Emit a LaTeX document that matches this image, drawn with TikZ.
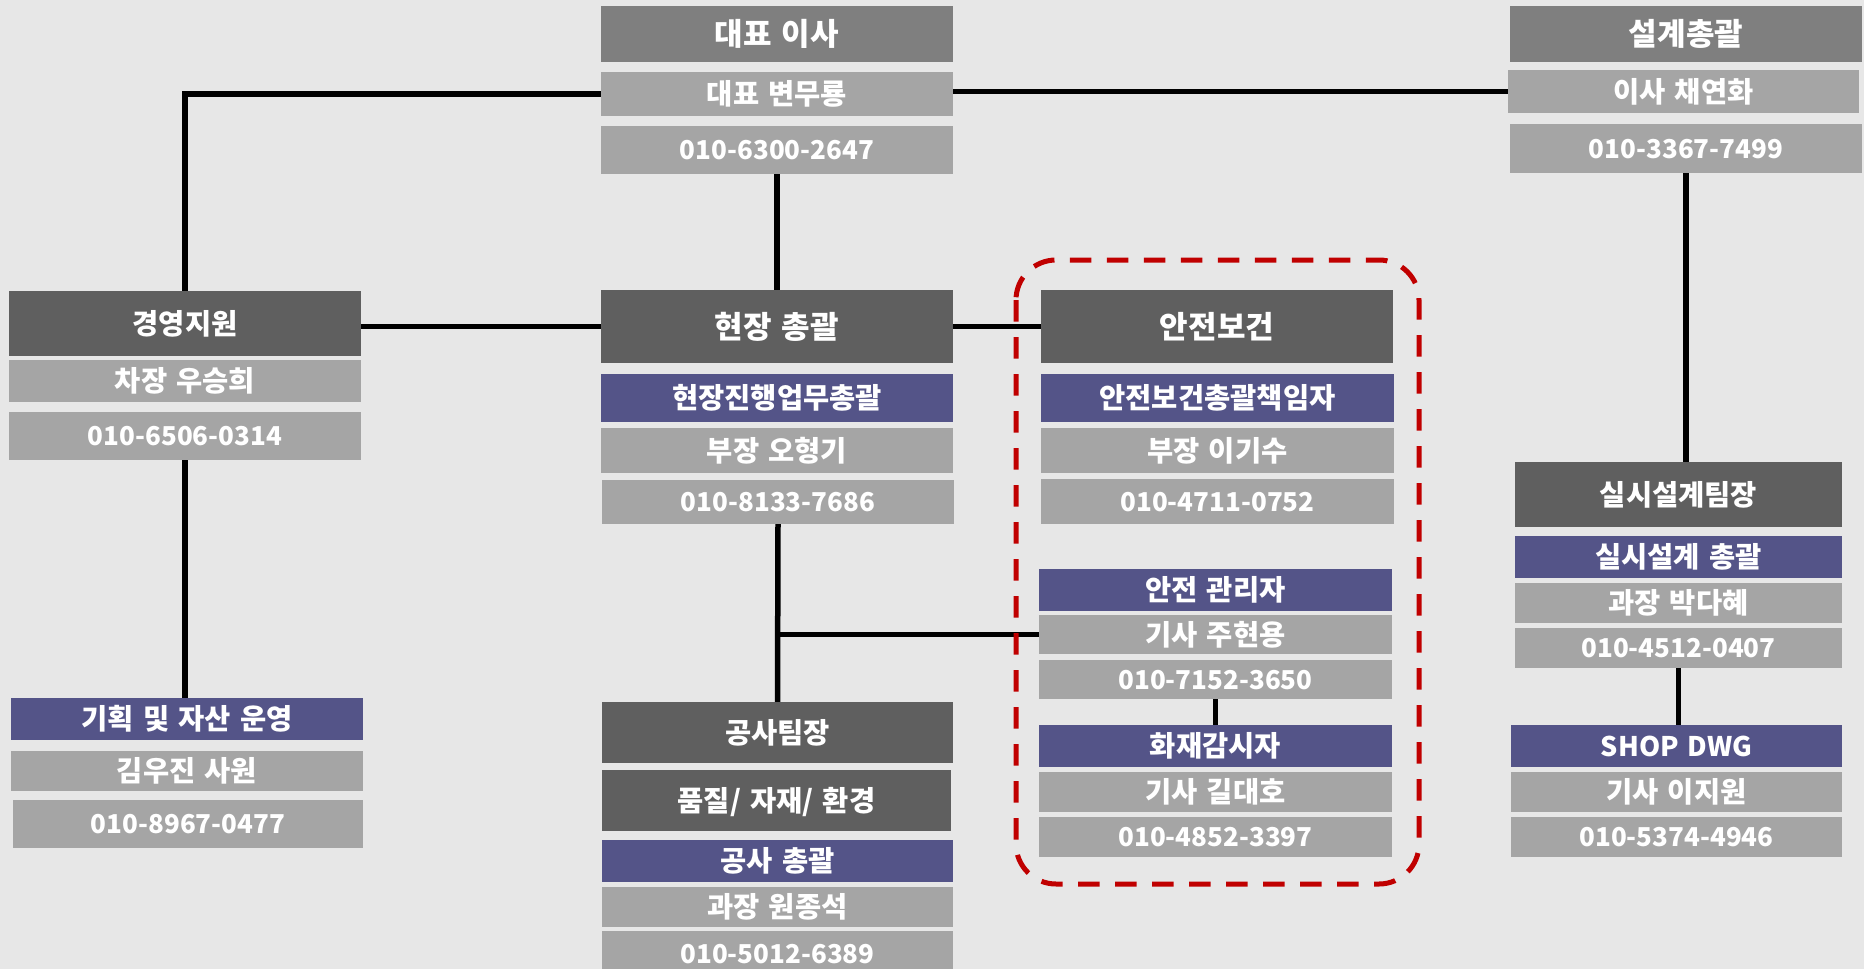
\documentclass[tikz,border=0pt]{standalone}
\usepackage{fontspec}
\setmainfont{Noto Sans CJK KR}[WordSpace=1.4]
\definecolor{bgc}{HTML}{E7E7E7}
\definecolor{topgray}{HTML}{7F7F7F}
\definecolor{darkbox}{HTML}{5F5F5F}
\definecolor{lightbox}{HTML}{A5A5A5}
\definecolor{purplebox}{HTML}{545488}
\definecolor{redline}{HTML}{C00000}
\tikzset{
  bx/.style={inner sep=0pt, text=white, font=\bfseries\fontsize{26}{30}\selectfont,
    text height=19pt, text depth=0pt, minimum width=352pt},
  kt/.style={font=\bfseries\fontsize{28.5}{32}\selectfont, text height=21pt},
  bigtxt/.style={font=\bfseries\fontsize{31}{35}\selectfont, text height=23pt},
  topbox/.style={bx, bigtxt, fill=topgray},
  dk/.style={bx, kt, fill=darkbox},
  lt/.style={bx, fill=lightbox},
  ltk/.style={bx, kt, fill=lightbox},
  pu/.style={bx, kt, fill=purplebox},
  conn/.style={line width=5.5pt, black},
  groupline/.style={draw=redline, line width=5pt, dash pattern=on 21.5pt off 15.5pt, rounded corners=40pt}
}
\begin{document}
\begin{tikzpicture}[x=1pt,y=-1pt]
\useasboundingbox (0,0) rectangle (1864,969);
\clip (0,0) rectangle (1864,969);
\fill[bgc] (0,0) rectangle (1864,969);

% top center
\node[topbox, minimum height=56pt] (ceo) at (777,34) {대표 이사};
\node[ltk, minimum height=44pt] (bm) at (777,94) {대표 변무룡};
\node[lt, minimum height=48pt] (p1) at (777,150) {010-6300-2647};

% top right
\node[topbox, minimum height=56pt] (des) at (1686,34) {설계총괄};
\node[ltk, minimum width=351pt, minimum height=43pt] (cy) at (1683.5,91.5) {이사 채연화};
\node[lt, minimum height=49pt] (p2) at (1686,148.5) {010-3367-7499};

% left
\node[dk, minimum height=65pt] (gy) at (185,323.5) {경영지원};
\node[ltk, minimum height=42pt] (wsh) at (185,381) {차장 우승희};
\node[lt, minimum height=48pt] (p3) at (185,436) {010-6506-0314};

\node[pu, minimum height=42pt] (kh) at (187,719) {기획 및 자산 운영};
\node[ltk, minimum height=40pt] (kwj) at (187,771) {김우진 사원};
\node[lt, minimum width=350pt, minimum height=48pt] (p10) at (188,824) {010-8967-0477};

% center
\node[dk, bigtxt, minimum height=73pt] (hj) at (777,326.5) {현장 총괄};
\node[pu, minimum height=48pt] (hjp) at (777,398) {현장진행업무총괄};
\node[ltk, minimum height=45pt] (ohg) at (777,450.5) {부장 오형기};
\node[lt, minimum height=44pt] (p4) at (778,502) {010-8133-7686};

\node[dk, minimum width=351pt, minimum height=61pt] (gs) at (777.5,732.5) {공사팀장};
\node[dk, minimum width=349pt, minimum height=61pt] (pj) at (776.5,800.5) {품질/ 자재/ 환경};
\node[pu, minimum width=351pt, minimum height=42pt] (gsc) at (777.5,861) {공사 총괄};
\node[ltk, minimum width=351pt, minimum height=40pt] (wjs) at (777.5,907) {과장 원종석};
\node[lt, minimum width=351pt, minimum height=46pt] (p11) at (777.5,954) {010-5012-6389};

% safety group
\node[dk, bigtxt, minimum height=73pt] (aj) at (1217,326.5) {안전보건};
\node[pu, minimum width=353pt, minimum height=48pt] (ajp) at (1217.5,398) {안전보건총괄책임자};
\node[ltk, minimum width=353pt, minimum height=45pt] (lks) at (1217.5,450.5) {부장 이기수};
\node[lt, minimum width=353pt, minimum height=45pt] (p5) at (1217.5,501.5) {010-4711-0752};

\node[pu, minimum width=353pt, minimum height=42pt] (am) at (1215.5,590) {안전 관리자};
\node[ltk, minimum width=353pt, minimum height=39pt] (jhy) at (1215.5,634.5) {기사 주현용};
\node[lt, minimum width=353pt, minimum height=39pt] (p6) at (1215.5,679.5) {010-7152-3650};
\node[pu, minimum width=353pt, minimum height=42pt] (fw) at (1215.5,746) {화재감시자};
\node[ltk, minimum width=353pt, minimum height=40pt] (gdh) at (1215.5,792) {기사 길대호};
\node[lt, minimum width=353pt, minimum height=40pt] (p7) at (1215.5,837) {010-4852-3397};

% design column
\node[dk, minimum width=327pt, minimum height=65pt] (ss) at (1678.5,494.5) {실시설계팀장};
\node[pu, minimum width=327pt, minimum height=42pt] (ssp) at (1678.5,557) {실시설계 총괄};
\node[ltk, minimum width=327pt, minimum height=40pt] (pdh) at (1678.5,603) {과장 박다혜};
\node[lt, minimum width=327pt, minimum height=40pt] (p8) at (1678.5,648) {010-4512-0407};
\node[pu, font=\bfseries\fontsize{27}{31}\selectfont, minimum width=331pt, minimum height=42pt] (shop) at (1676.5,746) {SHOP DWG};
\node[ltk, minimum width=331pt, minimum height=40pt] (ljw) at (1676.5,792) {기사 이지원};
\node[lt, minimum width=331pt, minimum height=40pt] (p9) at (1676.5,837) {010-5374-4946};

% connectors
\draw[conn] (bm.west) -- (bm.west -| gy.north) -- (gy.north);
\draw[conn] (p1.south) -- (hj.north);
\draw[conn] (cy.west -| bm.east) -- (cy.west);
\draw[conn] (p2.south) -- (p2.south |- ss.north);
\draw[conn] (hj.west -| gy.east) -- (hj.west);
\draw[conn] (hj.east) -- (aj.west);
\draw[conn] (p3.south) -- (p3.south |- kh.north);
\draw[conn] (p4.south) -- (gs.north);
\draw[conn] (jhy.west) -- (jhy.west -| p4.south);
\draw[conn, line width=5pt] (p6.south) -- (fw.north);
\draw[conn] (p8.south) -- (p8.south |- shop.north);

% safety group frame
\draw[groupline] (1016,260) rectangle (1419,884);
\end{tikzpicture}
\end{document}
